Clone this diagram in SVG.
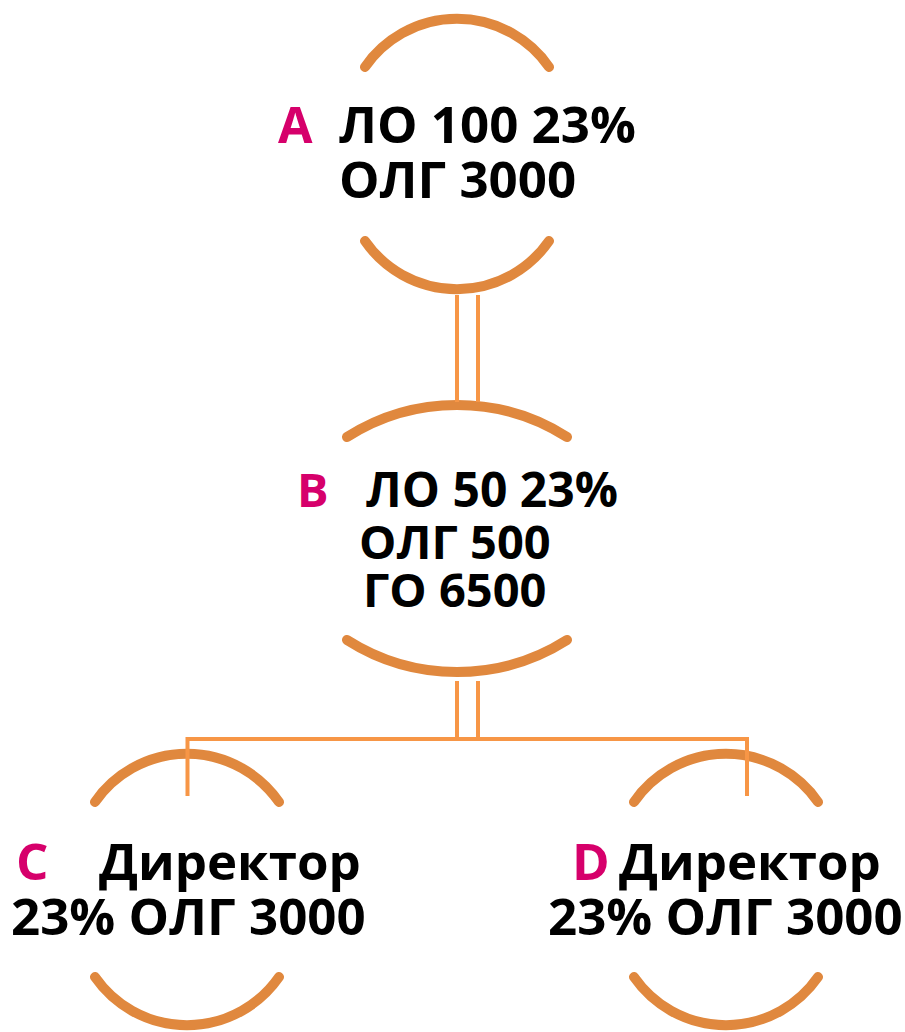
<svg xmlns="http://www.w3.org/2000/svg" width="905" height="1032" viewBox="0 0 905 1032">
<style>
.arc{fill:none;stroke:#E0883E;stroke-width:10;stroke-linecap:round}
.con{fill:none;stroke:#F79646;stroke-width:4}
.t{font-family:"Open Sans","DejaVu Sans",sans-serif;font-weight:bold;fill:#000}
.k{font-family:"Open Sans","DejaVu Sans",sans-serif;font-weight:bold;fill:#D6006B}
</style>
<rect width="905" height="1032" fill="#fff"/>
<g id="nodeA">
<path class="arc" d="M365,67 A112,112 0 0 1 549,67"/>
<path class="arc" d="M365,241 A112,112 0 0 0 549,241"/>
<text class="k" x="278" y="143" font-size="50">A</text>
<text class="t" x="339" y="143" font-size="51">ЛО 100 23%</text>
<text class="t" x="339" y="198" font-size="51">ОЛГ 3000</text>
</g>
<g id="nodeB">
<path class="arc" d="M347,437 A205,205 0 0 1 567,437"/>
<path class="arc" d="M347,640 A205,205 0 0 0 567,640"/>
<text class="k" x="297" y="507" font-size="47">B</text>
<text class="t" x="366" y="507" font-size="48">ЛО 50 23%</text>
<text class="t" x="359" y="559" font-size="47">ОЛГ 500</text>
<text class="t" x="363" y="607" font-size="47">ГО 6500</text>
</g>
<g id="nodeC">
<path class="arc" d="M95,802 A112,112 0 0 1 279,802"/>
<path class="arc" d="M95,977 A112,112 0 0 0 279,977"/>
<text class="k" x="16" y="880" font-size="51">C</text>
<text class="t" x="99" y="880" font-size="51">Директор</text>
<text class="t" x="11" y="935" font-size="51">23% ОЛГ 3000</text>
</g>
<g id="nodeD">
<path class="arc" d="M634,802 A112,112 0 0 1 818,802"/>
<path class="arc" d="M634,977 A112,112 0 0 0 818,977"/>
<text class="k" x="572" y="880" font-size="51">D</text>
<text class="t" x="619" y="880" font-size="51">Директор</text>
<text class="t" x="548" y="935" font-size="51">23% ОЛГ 3000</text>
</g>
<g id="connectors">
<line class="con" x1="457" y1="295" x2="457" y2="402"/>
<line class="con" x1="478" y1="295" x2="478" y2="402"/>
<line class="con" x1="457" y1="681" x2="457" y2="739"/>
<line class="con" x1="478" y1="681" x2="478" y2="739"/>
<path class="con" d="M187.5,796 V739 H747 V796"/>
</g>
</svg>
